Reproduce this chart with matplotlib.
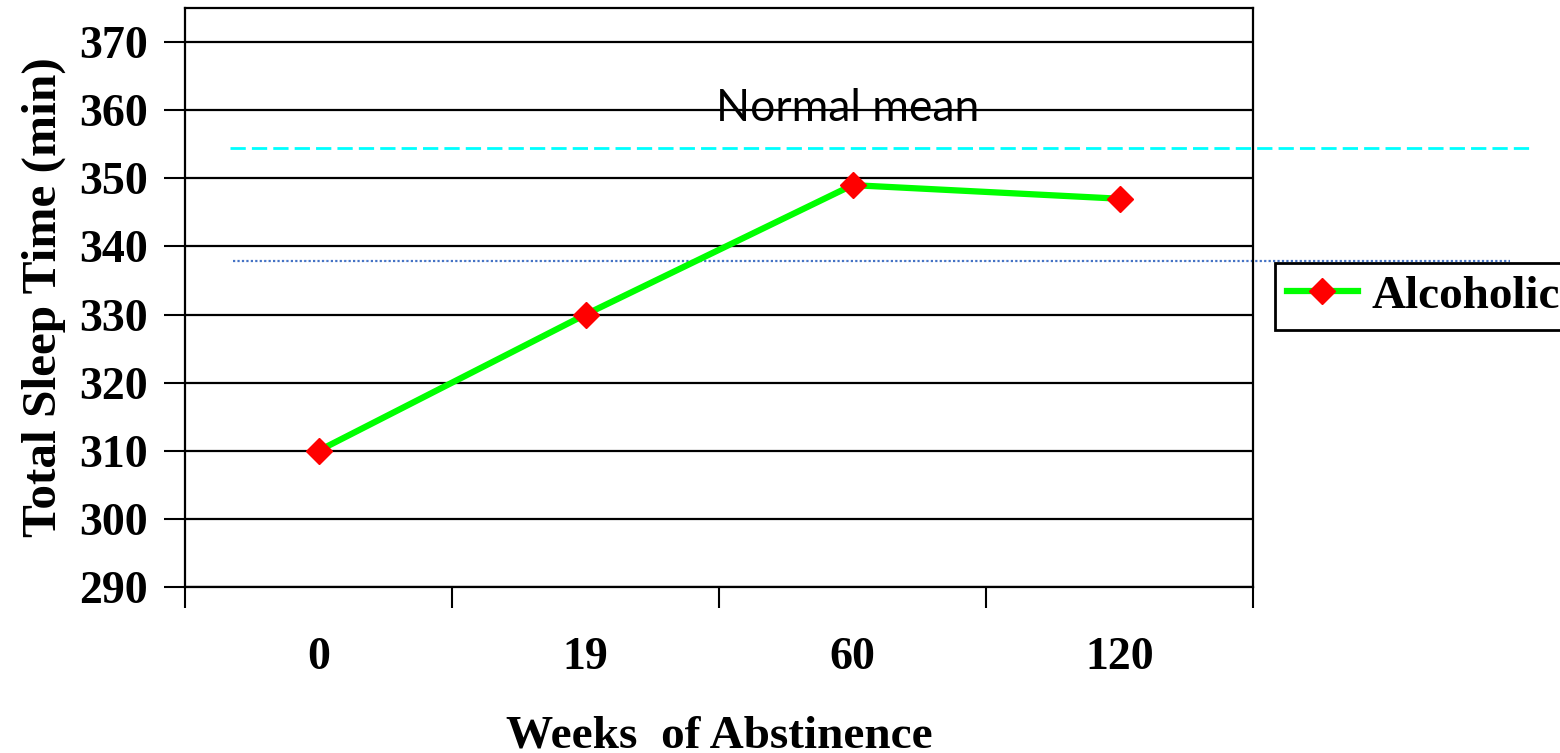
import matplotlib
matplotlib.use('Agg')
import matplotlib.pyplot as plt

# data
weeks = ['0', '19', '60', '120']
sleep_alcoholic = [310, 330, 349, 347]
normal_mean = 354.4
lower_ref = 337.8
y_ticks = [290, 300, 310, 320, 330, 340, 350, 360, 370]

fig = plt.figure(figsize=(15.6, 7.53), dpi=100)
ax = fig.add_axes([185/1560, 1 - 587/753, (1253-185)/1560, (587-8)/753])

x = list(range(len(weeks)))
ax.plot(x, sleep_alcoholic, color='#00ff00', lw=4.5, marker='D', ms=13,
        mfc='red', mec='red', label='Alcoholic', zorder=5)

# reference lines run past the plot area
ax.axhline(normal_mean, xmin=0.042, xmax=1.259, color='cyan', lw=2,
           ls=(0, (5.5, 2.2)), clip_on=False)
ax.axhline(lower_ref, xmin=0.045, xmax=1.241, color='#4472c4', lw=1.6,
           ls=(0, (1, 1)), clip_on=False)
ax.text(1.983, 360.3, 'Normal mean', ha='center', va='center', fontsize=32,
        family='Lato', color='black')

ax.set_xlim(-0.5, 3.5)
ax.set_ylim(290, 375)
ax.set_yticks(y_ticks)
ax.yaxis.grid(True, color='black', lw=1.6)
ax.set_axisbelow(True)

ax.set_xticks([i - 0.5 for i in range(len(weeks) + 1)])
ax.set_xticklabels([])
ax.set_xticks(x, minor=True)
ax.set_xticklabels(weeks, minor=True)
ax.tick_params(axis='x', which='major', direction='out', length=15, width=1.5)
ax.tick_params(axis='x', which='minor', length=0, pad=36)
ax.tick_params(axis='y', direction='out', length=15, width=1.5, pad=12)

for lab in ax.get_xticklabels(minor=True) + ax.get_yticklabels():
    lab.set_family('Liberation Serif')
    lab.set_weight('bold')
    lab.set_fontsize(33)

for s in ax.spines.values():
    s.set_linewidth(1.6)

ax.set_xlabel('Weeks  of Abstinence', family='Liberation Serif', weight='bold',
              fontsize=34, labelpad=26)
ax.set_ylabel('Total Sleep Time (min)', family='Liberation Serif', weight='bold',
              fontsize=35.5, labelpad=9)

leg = ax.legend(loc='upper left', bbox_to_anchor=(1.0206, 0.5596), frameon=True,
                fancybox=False, edgecolor='black', framealpha=1,
                prop={'family': 'Liberation Serif', 'weight': 'bold', 'size': 34},
                handlelength=1.5, handletextpad=0.3, borderpad=0.25,
                borderaxespad=0)
leg.get_frame().set_linewidth(2)

fig.savefig('out.png', dpi=100)
